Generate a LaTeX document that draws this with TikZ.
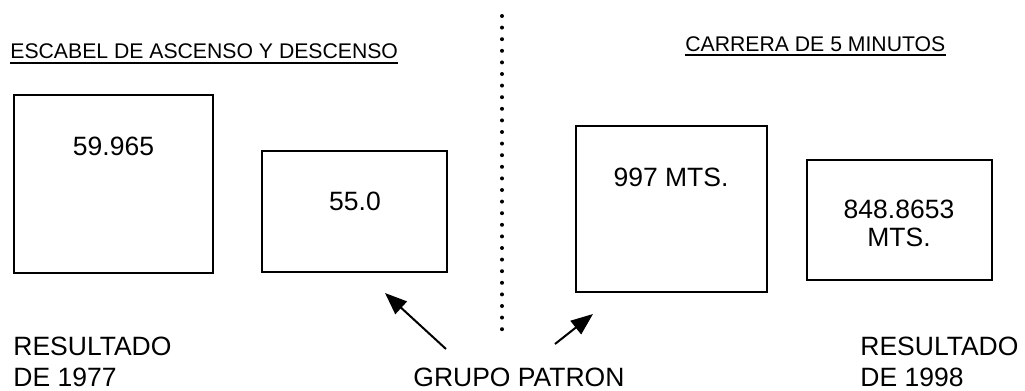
\documentclass[tikz,border=0pt]{standalone}
\usepackage{fontspec}
\setmainfont{Liberation Sans}
\usetikzlibrary{arrows.meta}

\begin{document}
\begin{tikzpicture}[x=0.5pt,y=-0.5pt,
        caja/.style={draw,line width=1pt,inner sep=0pt},
        dato/.style={font=\fontsize{13.25}{14}\selectfont,align=center,inner sep=0pt},
        titulo/.style={font=\fontsize{10.6}{12}\selectfont,inner sep=0pt,anchor=base west},
        rotulo/.style={font=\fontsize{13.25}{15.5}\selectfont,align=left,inner sep=0pt},
        flecha/.style={line width=1pt,-{Triangle[length=11pt,width=8.5pt]}}]
        \useasboundingbox (0,0) rectangle (1025,391);

        % Titles with underline
        \node[titulo] (esc) at (10,59) {ESCABEL DE ASCENSO Y DESCENSO};
        \node[titulo] (car) at (685,51) {CARRERA DE 5 MINUTOS};
        \draw[line width=0.6pt] ([yshift=-2pt]esc.base west) -- ([yshift=-2pt]esc.base east);
        \draw[line width=0.6pt] ([yshift=-2pt]car.base west) -- ([yshift=-2pt]car.base east);

        % Boxes, left side
        \node[caja,minimum width=99.5pt,minimum height=89pt] (c1) at (113.5,184) {};
        \node[caja,minimum width=92.5pt,minimum height=60.5pt] (c2) at (354.5,211.5) {};
        \node[dato] (v1) at (113.5,146) {59.965};
        \node[dato] (v2) at (355,201) {55.0};

        % Boxes, right side
        \node[caja,minimum width=95.5pt,minimum height=83pt] (c3) at (671.5,209) {};
        \node[caja,minimum width=92.5pt,minimum height=60pt] (c4) at (899.5,220) {};
        \node[dato] (v3) at (671,177) {997 MTS.};
        \node[dato] (v4) at (899,223.5) {848.8653\\MTS.};

        % Dotted divider
        \foreach \k in {0,...,27}
            \fill (502,16+11.6*\k) circle (1pt);

        % Labels below
        \node[rotulo,anchor=north west] (r1) at (13,337) {RESULTADO\\DE 1977};
        \node[rotulo,anchor=north west] (r2) at (860,337) {RESULTADO\\DE 1998};
        \node[rotulo,anchor=base west] (gp) at (413,386) {GRUPO PATRON};

        % Arrows to the reference group
        \coordinate (f1a) at (446,349);
        \coordinate (f1b) at (385,293);
        \coordinate (f2a) at (555,344);
        \coordinate (f2b) at (593,314);
        \draw[flecha] (f1a) -- (f1b);
        \draw[flecha] (f2a) -- (f2b);
    \end{tikzpicture}
\end{document}
